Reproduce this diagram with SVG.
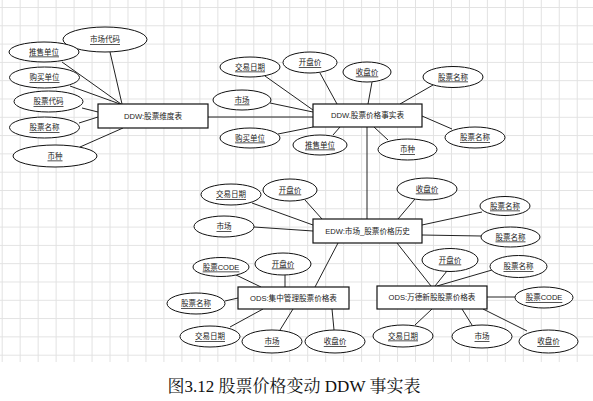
<svg xmlns="http://www.w3.org/2000/svg" width="593" height="401" viewBox="0 0 593 401">
<defs>
<pattern id="grid" patternUnits="userSpaceOnUse" x="1.7" y="7" width="17.97" height="18.3">
<path d="M0 0.5 H17.97 M0.5 0 V18.3" fill="none" stroke="#e2e2e2" stroke-width="1"/>
</pattern>
<style>
.e{fill:#fff;stroke:#111;stroke-width:1}
.r{fill:#fff;stroke:#111;stroke-width:1.2}
.t{font-family:"Liberation Sans","Noto Sans CJK SC",sans-serif;font-size:7.5px;fill:#1a1a1a;text-anchor:middle;dominant-baseline:central;text-decoration:underline}
.rt{font-family:"Liberation Sans","Noto Sans CJK SC",sans-serif;font-size:7.6px;fill:#1a1a1a;text-anchor:middle;dominant-baseline:central}
.c line{stroke:#222;stroke-width:1}
.cap{font-family:"Liberation Serif","Noto Serif CJK SC","Noto Sans CJK SC",serif;font-size:17px;fill:#111;text-anchor:middle}
</style>
</defs>
<rect width="593" height="401" fill="#fff"/>
<rect x="0" y="0" width="593" height="362" fill="url(#grid)"/>

<g id="connectors" class="c">
<line x1="110" y1="52" x2="122" y2="104"/>
<line x1="62" y1="62" x2="121" y2="104"/>
<line x1="70" y1="86" x2="120" y2="104"/>
<line x1="82" y1="108" x2="98" y2="112"/>
<line x1="79" y1="123" x2="98" y2="117"/>
<line x1="80" y1="147" x2="123" y2="128"/>
<line x1="208" y1="117" x2="313" y2="117"/>
<line x1="265" y1="76" x2="313" y2="110"/>
<line x1="320" y1="73" x2="337" y2="104"/>
<line x1="372" y1="82" x2="368" y2="104"/>
<line x1="270" y1="103" x2="313" y2="112"/>
<line x1="278" y1="134" x2="313" y2="127"/>
<line x1="333" y1="135" x2="340" y2="127"/>
<line x1="433" y1="85" x2="400" y2="104"/>
<line x1="452" y1="129" x2="422" y2="116"/>
<line x1="388" y1="140" x2="374" y2="127"/>
<line x1="367" y1="127" x2="367" y2="219"/>
<line x1="252" y1="203" x2="313" y2="225"/>
<line x1="305" y1="200" x2="322" y2="219"/>
<line x1="254" y1="227" x2="313" y2="231"/>
<line x1="415" y1="199" x2="398" y2="219"/>
<line x1="482" y1="212" x2="422" y2="225"/>
<line x1="481" y1="236" x2="422" y2="235"/>
<line x1="338" y1="243" x2="315" y2="287"/>
<line x1="397" y1="243" x2="431" y2="286"/>
<line x1="236" y1="275" x2="261" y2="287"/>
<line x1="285" y1="275" x2="285" y2="287"/>
<line x1="225" y1="301" x2="238" y2="298"/>
<line x1="230" y1="327" x2="263" y2="309"/>
<line x1="280" y1="330" x2="293" y2="309"/>
<line x1="334" y1="330" x2="332" y2="309"/>
<line x1="447" y1="271" x2="435" y2="286"/>
<line x1="492" y1="270" x2="437" y2="286"/>
<line x1="487" y1="297" x2="515" y2="297"/>
<line x1="415" y1="325" x2="432" y2="309"/>
<line x1="472" y1="325" x2="462" y2="309"/>
<line x1="527" y1="331" x2="483" y2="309"/>
</g>

<g id="dim-table"><rect class="r" x="98" y="104" width="110" height="24"/><text class="rt" x="153" y="116">DDW:股票维度表</text></g>
<g id="dim-mktcode"><ellipse class="e" cx="105" cy="39.5" rx="42" ry="12.5"/><text class="t" x="105" y="39.5">市场代码</text></g>
<g id="dim-sellunit"><ellipse class="e" cx="44" cy="52" rx="35" ry="10"/><text class="t" x="44" y="52">推售单位</text></g>
<g id="dim-buyunit"><ellipse class="e" cx="44.5" cy="77.5" rx="35" ry="10.5"/><text class="t" x="44.5" y="77.5">购买单位</text></g>
<g id="dim-code"><ellipse class="e" cx="48.5" cy="101.5" rx="34.5" ry="10.5"/><text class="t" x="48.5" y="101.5">股票代码</text></g>
<g id="dim-name"><ellipse class="e" cx="44.5" cy="127.5" rx="35" ry="10.5"/><text class="t" x="44.5" y="127.5">股票名称</text></g>
<g id="dim-currency"><ellipse class="e" cx="55" cy="156" rx="42" ry="11"/><text class="t" x="55" y="156">币种</text></g>

<g id="fact-table"><rect class="r" x="313" y="104" width="109" height="23"/><text class="rt" x="367.5" y="115.5">DDW.股票价格事实表</text></g>
<g id="fact-date"><ellipse class="e" cx="250" cy="67" rx="30" ry="10"/><text class="t" x="250" y="67">交易日期</text></g>
<g id="fact-open"><ellipse class="e" cx="310" cy="62.5" rx="27" ry="10.5"/><text class="t" x="310" y="62.5">开盘价</text></g>
<g id="fact-close"><ellipse class="e" cx="367" cy="72" rx="24" ry="10"/><text class="t" x="367" y="72">收盘价</text></g>
<g id="fact-market"><ellipse class="e" cx="242" cy="100" rx="29" ry="10"/><text class="t" x="242" y="100">市场</text></g>
<g id="fact-buyunit"><ellipse class="e" cx="250" cy="138" rx="30" ry="10"/><text class="t" x="250" y="138">购买单位</text></g>
<g id="fact-sellunit"><ellipse class="e" cx="320" cy="145" rx="27" ry="10"/><text class="t" x="320" y="145">推售单位</text></g>
<g id="fact-name1"><ellipse class="e" cx="453" cy="77" rx="30" ry="10.5"/><text class="t" x="453" y="77">股票名称</text></g>
<g id="fact-name2"><ellipse class="e" cx="475" cy="137.5" rx="30" ry="10.5"/><text class="t" x="475" y="137.5">股票名称</text></g>
<g id="fact-currency"><ellipse class="e" cx="407.5" cy="149.5" rx="29.5" ry="10.5"/><text class="t" x="407.5" y="149.5">币种</text></g>

<g id="edw-table"><rect class="r" x="313" y="219" width="109" height="24"/><text class="rt" x="367.5" y="231">EDW:市场_股票价格历史</text></g>
<g id="edw-date"><ellipse class="e" cx="231" cy="194.5" rx="30" ry="10.5"/><text class="t" x="231" y="194.5">交易日期</text></g>
<g id="edw-open"><ellipse class="e" cx="290" cy="190" rx="27" ry="11"/><text class="t" x="290" y="190">开盘价</text></g>
<g id="edw-market"><ellipse class="e" cx="224" cy="226.5" rx="30" ry="10.5"/><text class="t" x="224" y="226.5">市场</text></g>
<g id="edw-close"><ellipse class="e" cx="427" cy="189" rx="30" ry="11"/><text class="t" x="427" y="189">收盘价</text></g>
<g id="edw-name1"><ellipse class="e" cx="505" cy="206" rx="25" ry="9.5"/><text class="t" x="505" y="206">股票名称</text></g>
<g id="edw-name2"><ellipse class="e" cx="510.5" cy="237" rx="29.5" ry="10"/><text class="t" x="510.5" y="237">股票名称</text></g>

<g id="ods1-table"><rect class="r" x="238" y="287" width="111" height="22"/><text class="rt" x="293.5" y="298">ODS:集中管理股票价格表</text></g>
<g id="ods1-code"><ellipse class="e" cx="221" cy="267" rx="28" ry="9.5"/><text class="t" x="221" y="267">股票CODE</text></g>
<g id="ods1-open"><ellipse class="e" cx="283" cy="264" rx="28" ry="11"/><text class="t" x="283" y="264">开盘价</text></g>
<g id="ods1-name"><ellipse class="e" cx="196" cy="303.5" rx="29" ry="10.5"/><text class="t" x="196" y="303.5">股票名称</text></g>
<g id="ods1-date"><ellipse class="e" cx="210" cy="336.5" rx="30" ry="10.5"/><text class="t" x="210" y="336.5">交易日期</text></g>
<g id="ods1-market"><ellipse class="e" cx="272" cy="341.5" rx="30" ry="11.5"/><text class="t" x="272" y="341.5">市场</text></g>
<g id="ods1-close"><ellipse class="e" cx="335" cy="341.5" rx="30" ry="11.5"/><text class="t" x="335" y="341.5">收盘价</text></g>

<g id="ods2-table"><rect class="r" x="377" y="286" width="110" height="23"/><text class="rt" x="432" y="297.5">ODS:万德新股股票价格表</text></g>
<g id="ods2-open"><ellipse class="e" cx="450" cy="260" rx="28" ry="11.5"/><text class="t" x="450" y="260">开盘价</text></g>
<g id="ods2-name"><ellipse class="e" cx="518.5" cy="266.5" rx="28.5" ry="11"/><text class="t" x="518.5" y="266.5">股票名称</text></g>
<g id="ods2-code"><ellipse class="e" cx="544" cy="297.5" rx="29" ry="10.5"/><text class="t" x="544" y="297.5">股票CODE</text></g>
<g id="ods2-date"><ellipse class="e" cx="403" cy="336" rx="30" ry="11"/><text class="t" x="403" y="336">交易日期</text></g>
<g id="ods2-market"><ellipse class="e" cx="482" cy="336.5" rx="30" ry="11.5"/><text class="t" x="482" y="336.5">市场</text></g>
<g id="ods2-close"><ellipse class="e" cx="548.5" cy="341.5" rx="29.5" ry="11.5"/><text class="t" x="548.5" y="341.5">收盘价</text></g>

<text class="cap" x="294" y="392">图3.12  股票价格变动 DDW 事实表</text>
</svg>
